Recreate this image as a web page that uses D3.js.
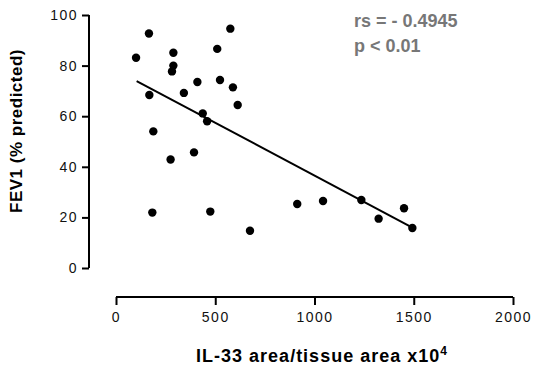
<!DOCTYPE html>
<html lang="en">
<meta charset="utf-8">
<head>
    <script src="https://d3js.org/d3.v7.min.js"></script>
    <style>
        body { margin: 0; background: #fff; }
        svg { display: block; }
    </style>
</head>
<body>
<div id="chart"></div>
<script>
// IL-33 area (x10^4) vs FEV1 % predicted
const il33 = [101, 166, 289, 289, 282, 168, 342, 410, 510, 576, 524, 589, 613, 437, 459, 188,
              275, 393, 183, 475, 675, 913, 1043, 1236, 1451, 1323, 1493];
const fev1 = [83.1, 92.7, 85.1, 80.0, 77.7, 68.4, 69.2, 73.5, 86.6, 94.6, 74.3, 71.4, 64.4, 61.1, 58.0, 54.0,
              42.9, 45.7, 21.9, 22.3, 14.7, 25.3, 26.5, 26.9, 23.6, 19.5, 15.8];
// fitted line as it is drawn
const fitX = [104, 1493];
const fitY = [73.9, 16.0];
const xTicks = [0, 500, 1000, 1500, 2000];
const yTicks = [0, 20, 40, 60, 80, 100];
const statLines = ["rs = - 0.4945", "p < 0.01"];

const width = 539, height = 371;
const font = "Liberation Sans, Arial, sans-serif";
const svg = d3.select("#chart").append("svg")
    .attr("width", width)
    .attr("height", height);

const x = d3.scaleLinear().domain([0, 2000]).range([116, 513]);
const y = d3.scaleLinear().domain([0, 100]).range([268, 15]);

// y axis
const yAxis = svg.append("g")
    .attr("transform", "translate(89,0)")
    .call(d3.axisLeft(y).tickValues(yTicks).tickSize(7).tickPadding(4).tickFormat(d3.format("d")));
// x axis
const xAxis = svg.append("g")
    .attr("transform", "translate(0,297)")
    .call(d3.axisBottom(x).tickValues(xTicks).tickSize(8).tickPadding(7).tickFormat(d3.format("d")));

[xAxis, yAxis].forEach(a => {
    a.select(".domain").attr("stroke", "#000").attr("stroke-width", 2)
        .attr("d", a === xAxis ? `M${x(0)},0H${x(2000)}` : `M0,${y(0)}V${y(100)}`);
    a.selectAll(".tick line").attr("stroke", "#000").attr("stroke-width", 2);
    a.selectAll(".tick text")
        .attr("fill", "#111")
        .style("font-family", font)
        .style("font-size", "14px")
        .style("letter-spacing", "1.5px");
});

// regression line
svg.append("path")
    .datum(fitX.map((d, i) => ({ x: d, y: fitY[i] })))
    .attr("fill", "none")
    .attr("stroke", "#000")
    .attr("stroke-width", 2)
    .attr("d", d3.line().x(d => x(d.x)).y(d => y(d.y)));

// points
svg.append("g").selectAll("circle")
    .data(il33.map((d, i) => ({ x: d, y: fev1[i] })))
    .join("circle")
    .attr("cx", d => x(d.x))
    .attr("cy", d => y(d.y))
    .attr("r", 4.2)
    .attr("fill", "#000");

// stats
svg.append("g").selectAll("text")
    .data(statLines)
    .join("text")
    .attr("x", 354)
    .attr("y", (d, i) => 27 + i * 25)
    .attr("fill", "#777")
    .style("font-family", font)
    .style("font-size", "18px")
    .style("font-weight", "bold")
    .text(d => d);

// axis titles
svg.append("text")
    .attr("transform", "translate(22,131) rotate(-90)")
    .attr("text-anchor", "middle")
    .style("font-family", font)
    .style("font-size", "17px")
    .style("font-weight", "bold")
    .style("letter-spacing", "0.5px")
    .text("FEV1 (% predicted)");

const xt = svg.append("text")
    .attr("x", 322)
    .attr("y", 362)
    .attr("text-anchor", "middle")
    .style("font-family", font)
    .style("font-size", "18px")
    .style("font-weight", "bold")
    .style("letter-spacing", "1px");
xt.append("tspan").text("IL-33 area/tissue area x10");
xt.append("tspan").attr("dy", -7).style("font-size", "12px").text("4");
</script>
</body>
</html>
